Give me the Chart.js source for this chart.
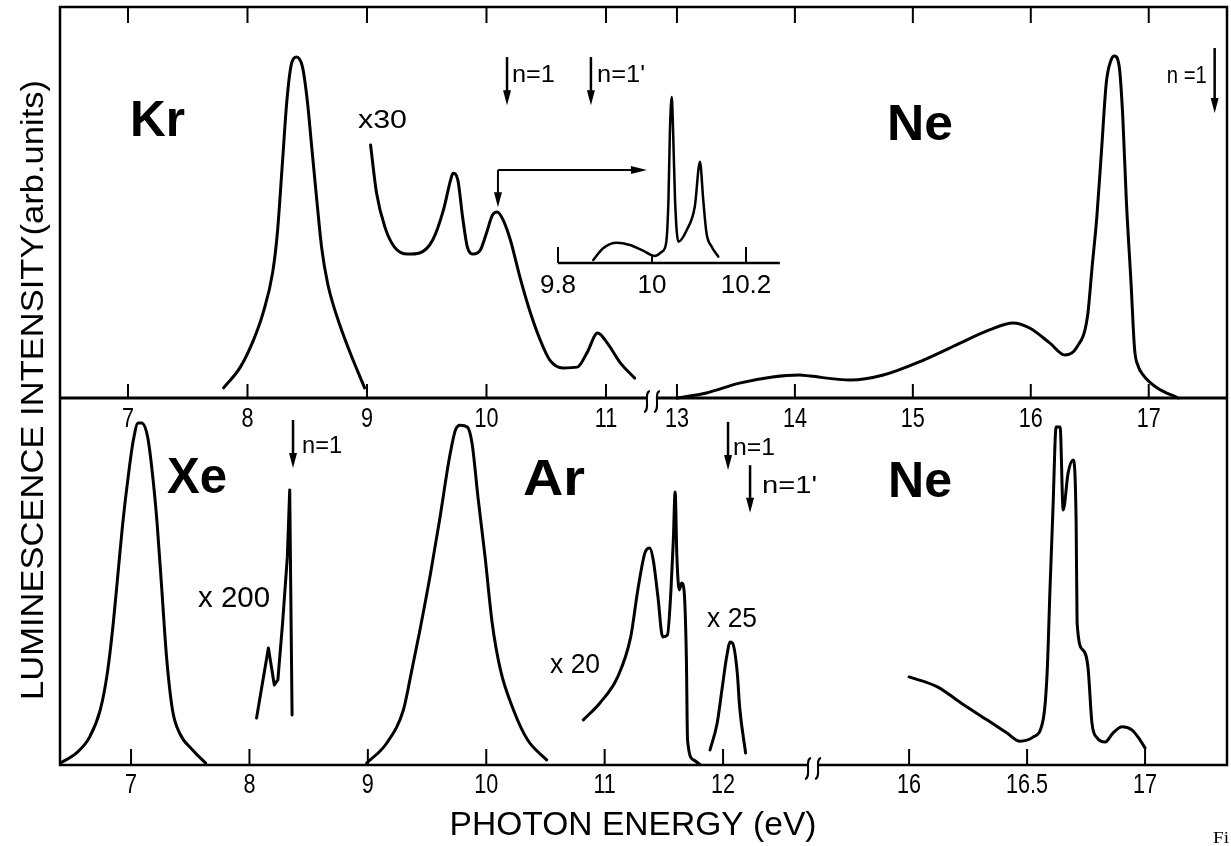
<!DOCTYPE html>
<html>
<head>
<meta charset="utf-8">
<title>Luminescence of rare-gas solids</title>
<script src="https://cdn.jsdelivr.net/npm/chart.js@4.4.1/dist/chart.umd.min.js"></script>
<style>
  html, body { margin: 0; padding: 0; background: #fff; }
  #wrap { position: relative; width: 1231px; height: 846px; }
</style>
</head>
<body>
<div id="wrap"><canvas id="chart" width="1231" height="846"></canvas></div>
<script>

// ---- data: photon energy (eV) and intensity (arb. units, 0-100 per panel) ----

// upper panel
var krMainE = [ 7.80, 7.94, 8.05, 8.13, 8.21, 8.25, 8.29, 8.33, 8.37, 8.41, 8.46, 8.50, 8.54, 8.58, 8.62, 8.67, 8.75, 8.86, 8.98 ];
var krMainI = [ 2.6, 7.9, 14.8, 21.7, 32.0, 42.2, 59.1, 76.2, 85.7, 87.2, 84.7, 76.2, 63.4, 50.6, 38.6, 29.4, 20.7, 11.5, 2.6 ];

var krX30E = [ 9.03, 9.08, 9.15, 9.23, 9.34, 9.44, 9.55, 9.64, 9.70, 9.72, 9.76, 9.80, 9.84, 9.89, 9.95, 10.00, 10.05, 10.09, 10.14, 10.20, 10.28, 10.36, 10.45, 10.53, 10.64, 10.76, 10.84, 10.93, 11.01, 11.12, 11.24 ];
var krX30I = [ 64.7, 52.4, 43.7, 38.6, 36.8, 37.1, 40.4, 48.1, 55.8, 57.5, 55.8, 46.3, 38.6, 36.8, 37.9, 42.2, 46.8, 47.6, 45.5, 40.4, 30.9, 22.5, 14.8, 9.7, 7.7, 7.9, 11.5, 16.6, 14.1, 9.0, 5.1 ];

var neTopE = [ 13.00, 13.25, 13.53, 13.81, 14.04, 14.13, 14.47, 14.75, 15.09, 15.37, 15.65, 15.85, 15.99, 16.16, 16.29, 16.39, 16.48, 16.52, 16.56, 16.60, 16.64, 16.68, 16.71, 16.75, 16.78, 16.81, 16.85, 16.88, 16.91, 16.95, 17.07, 17.25 ];
var neTopI = [ 0, 1.3, 3.8, 5.4, 5.9, 5.6, 4.6, 5.9, 9.7, 13.6, 17.4, 19.2, 17.9, 14.1, 11.0, 13.0, 20.7, 33.5, 46.3, 63.4, 80.6, 86.4, 87.5, 84.7, 71.9, 50.6, 29.4, 12.5, 8.2, 6.0, 2.6, 0 ];

// inset (high resolution Kr, 9.8 - 10.2 eV)
var krInsetE = [ 9.875, 9.896, 9.925, 9.953, 9.981, 10.006, 10.021, 10.030, 10.035, 10.038, 10.042, 10.045, 10.049, 10.056, 10.074, 10.091, 10.102, 10.109, 10.116, 10.127, 10.141 ];
var krInsetI = [ 1.8, 8.9, 12.2, 10.8, 7.4, 4.2, 6.8, 11.9, 38.0, 78.3, 100, 78.3, 38.0, 12.8, 19.9, 33.9, 61.0, 38.0, 17.9, 9.8, 3.8 ];

// lower panel
var xeMainE = [ 6.40, 6.54, 6.65, 6.74, 6.80, 6.85, 6.89, 6.93, 6.98, 7.02, 7.06, 7.09, 7.14, 7.18, 7.22, 7.26, 7.30, 7.35, 7.41, 7.52, 7.63 ];
var xeMainI = [ 0.5, 3.3, 7.6, 15.0, 25.1, 38.7, 52.3, 65.9, 79.6, 88.6, 93.2, 93.2, 89.4, 79.6, 65.9, 47.7, 29.4, 15.0, 8.7, 4.1, 0.5 ];

var xeX200E = [ 8.06, 8.16, 8.21, 8.24, 8.28, 8.32, 8.34, 8.36 ];
var xeX200I = [ 12.8, 31.9, 21.8, 23.2, 38.7, 56.7, 74.9, 13.6 ];

var arMainE = [ 8.99, 9.16, 9.30, 9.36, 9.44, 9.53, 9.61, 9.69, 9.74, 9.78, 9.84, 9.88, 9.93, 9.99, 10.05, 10.12, 10.23, 10.35, 10.51 ];
var arMainI = [ 0.5, 6.0, 15.0, 24.0, 36.8, 52.3, 67.6, 83.9, 91.3, 92.6, 92.1, 87.7, 73.0, 56.7, 38.7, 25.9, 15.0, 6.8, 1.4 ];

var arX20E = [ 10.82, 10.96, 11.11, 11.22, 11.28, 11.34, 11.38, 11.41, 11.45, 11.49, 11.53, 11.56, 11.58, 11.595, 11.61, 11.63, 11.65, 11.67, 11.69, 11.70, 11.75, 11.81 ];
var arX20I = [ 12.3, 16.9, 24.0, 34.9, 47.7, 57.8, 59.1, 55.9, 45.8, 34.9, 35.4, 47.7, 61.3, 74.4, 56.7, 47.7, 49.6, 47.7, 29.4, 6.8, 1.4, 0 ];

var arX25E = [ 11.89, 11.95, 11.99, 12.03, 12.06, 12.08, 12.12, 12.14, 12.19 ];
var arX25I = [ 4.1, 11.4, 20.4, 29.4, 33.5, 33.2, 25.1, 15.8, 3.3 ];

var neBotE = [ 16.00, 16.12, 16.22, 16.33, 16.415, 16.47, 16.525, 16.568, 16.585, 16.597, 16.61, 16.623, 16.64, 16.653, 16.674, 16.695, 16.708, 16.712, 16.737, 16.758, 16.775, 16.797, 16.831, 16.864, 16.903, 16.945, 16.979, 17.00 ];
var neBotI = [ 24.0, 21.3, 16.9, 12.3, 8.7, 6.5, 7.6, 12.3, 25.1, 47.7, 70.3, 92.1, 92.1, 69.5, 79.6, 83.1, 65.9, 38.7, 31.3, 26.7, 11.4, 7.4, 6.3, 8.7, 10.4, 9.5, 6.8, 4.6 ];

// tick labels
var topTicks = [ 7, 8, 9, 10, 11, 13, 14, 15, 16, 17 ];
var bottomTicks = [ 7, 8, 9, 10, 11, 12, 16, 16.5, 17 ];
var insetTicks = [ 9.8, 10, 10.2 ];
var insetAxisEnd = 10.272;

// ---- broken energy axes: u is the continuous coordinate of the chart scales ----

var topU = function( e ) { return e < 12 ? e : 11.594 + ( e - 13 ) * 0.987; };
var botU = function( e ) { return e < 14 ? e : 13.571 + ( e - 16 ) * 1.993; };
var idU = function( e ) { return e; };

var topBreakU = 11.385;
var botBreakU = 12.76;

var SANS = '"Liberation Sans", Arial, Helvetica, sans-serif';

// ---- annotations ----

var notes = [
  { p: 'top', t: 'Kr', e: 7.017, i: 67.0, font: 'bold 50px ', w: 55 },
  { p: 'top', t: 'Ne', e: 14.78, i: 66.0, font: 'bold 50px ', w: 66 },
  { p: 'top', t: 'x30', e: 8.925, i: 69.1, font: '26px ', w: 49 },
  { p: 'top', t: 'n=1', e: 10.213, i: 80.8, font: '23px ', w: 43 },
  { p: 'top', t: 'n=1\'', e: 10.925, i: 80.8, font: '23px ', w: 48 },
  { p: 'top', t: 'n =1', e: 17.492, i: 80.6, font: '23px ', w: 40, align: 'right' },
  { p: 'bot', t: 'Xe', e: 7.304, i: 74.1, font: 'bold 50px ', w: 60 },
  { p: 'bot', t: 'Ar', e: 10.311, i: 73.6, font: 'bold 50px ', w: 62 },
  { p: 'bot', t: 'Ne', e: 15.911, i: 73.0, font: 'bold 50px ', w: 64 },
  { p: 'bot', t: 'x 200', e: 7.566, i: 43.1, font: '30px ', w: 72 },
  { p: 'bot', t: 'x 20', e: 10.539, i: 25.1, font: '28px ', w: 50 },
  { p: 'bot', t: 'x 25', e: 11.865, i: 37.6, font: '28px ', w: 50 },
  { p: 'bot', t: 'n=1', e: 8.444, i: 85.0, font: '23px ', w: 40 },
  { p: 'bot', t: 'n=1', e: 12.084, i: 84.5, font: '23px ', w: 42 },
  { p: 'bot', t: 'n=1\'', e: 12.329, i: 74.1, font: '23px ', w: 55 }
];

// exciton positions (vertical arrows)
var markers = [
  { p: 'top', e: 10.172, i1: 87.2, i2: 74.9 },
  { p: 'top', e: 10.874, i1: 87.2, i2: 74.9 },
  { p: 'top', e: 17.559, i1: 89.5, i2: 72.9 },
  { p: 'bot', e: 8.368, i1: 94.0, i2: 80.9 },
  { p: 'bot', e: 12.042, i1: 93.5, i2: 80.4 },
  { p: 'bot', e: 12.228, i1: 81.7, i2: 68.7 }
];

// ---- helpers ----

var line = function( ctx, x1, y1, x2, y2 ) {
  ctx.beginPath();
  ctx.moveTo( x1, y1 );
  ctx.lineTo( x2, y2 );
  ctx.stroke();
};

var label = function( ctx, str, x, y, font, width, align, sx ) {
  ctx.save();
  ctx.font = font;
  var k = width ? width / ctx.measureText( str ).width : ( sx || 1 );
  ctx.translate( x, y );
  ctx.scale( k, 1 );
  ctx.textAlign = align || 'left';
  ctx.textBaseline = 'alphabetic';
  ctx.fillText( str, 0, 0 );
  ctx.restore();
};

var head = function( ctx, x, y, dir ) {
  ctx.beginPath();
  ctx.moveTo( x, y );
  if ( dir === 'down' ) {
    ctx.lineTo( x - 4, y - 15 );
    ctx.lineTo( x + 4, y - 15 );
  } else {
    ctx.lineTo( x - 16, y - 4 );
    ctx.lineTo( x - 16, y + 4 );
  }
  ctx.closePath();
  ctx.fill();
};

var breakMark = function( ctx, x, y ) {
  ctx.save();
  ctx.fillStyle = '#fff';
  ctx.fillRect( x - 4, y - 3, 8, 6 );
  ctx.lineWidth = 2;
  [ -5, 5 ].forEach( function( dx ) {
    var cx = x + dx;
    ctx.beginPath();
    ctx.moveTo( cx + 3, y - 7 );
    ctx.bezierCurveTo( cx - 4, y - 6, cx + 4, y + 12, cx - 3, y + 14 );
    ctx.stroke();
  } );
  ctx.restore();
};

var series = function( es, is, map, xID, yID, extra ) {
  return Object.assign( {
    data: es.map( function( e, n ) { return { x: map( e ), y: is[ n ] }; } ),
    xAxisID: xID,
    yAxisID: yID,
    showLine: true,
    borderColor: '#000',
    borderWidth: 3,
    pointRadius: 0,
    cubicInterpolationMode: 'monotone',
    borderJoinStyle: 'round',
    borderCapStyle: 'round'
  }, extra || {} );
};

// ---- axes, labels and annotations ----

var decor = {
  id: 'decor',
  afterDatasetsDraw: function( chart ) {

    var ctx = chart.ctx;
    var a = chart.chartArea;
    var sc = chart.scales;

    var pt = function( p, e, i ) {
      if ( p === 'top' ) return [ sc.xTop.getPixelForValue( topU( e ) ), sc.yTop.getPixelForValue( i ) ];
      if ( p === 'bot' ) return [ sc.xBot.getPixelForValue( botU( e ) ), sc.yBot.getPixelForValue( i ) ];
      return [ sc.xIn.getPixelForValue( e ), sc.yIn.getPixelForValue( i ) ];
    };

    ctx.save();
    ctx.strokeStyle = '#000';
    ctx.fillStyle = '#000';

    // frame and panel divider
    var yMid = sc.yTop.getPixelForValue( 0 );
    var yBase = sc.yBot.getPixelForValue( 0 );
    ctx.lineWidth = 2.5;
    ctx.strokeRect( a.left, a.top, a.right - a.left, a.bottom - a.top );
    ctx.lineWidth = 3;
    line( ctx, a.left, yMid, a.right, yMid );

    // upper panel ticks + labels
    ctx.lineWidth = 2;
    topTicks.forEach( function( t ) {
      var x = sc.xTop.getPixelForValue( topU( t ) );
      line( ctx, x, a.top, x, a.top + 16 );
      line( ctx, x, yMid, x, yMid - 14 );
      label( ctx, String( t ), x, yMid + 29, '27px ' + SANS, null, 'center', 0.8 );
    } );

    // lower panel ticks + labels
    bottomTicks.forEach( function( t ) {
      var x = sc.xBot.getPixelForValue( botU( t ) );
      line( ctx, x, yBase, x, yBase - 16 );
      label( ctx, String( t ), x, yBase + 28, '27px ' + SANS, null, 'center', 0.8 );
    } );

    breakMark( ctx, sc.xTop.getPixelForValue( topBreakU ), yMid );
    breakMark( ctx, sc.xBot.getPixelForValue( botBreakU ), yBase );

    // inset axis
    var i0 = pt( 'in', 9.8, 0 );
    var i1 = pt( 'in', insetAxisEnd, 0 );
    ctx.lineWidth = 2.5;
    line( ctx, i0[ 0 ], i0[ 1 ], i1[ 0 ], i1[ 1 ] );
    ctx.lineWidth = 2;
    insetTicks.forEach( function( t ) {
      var q = pt( 'in', t, 0 );
      line( ctx, q[ 0 ], q[ 1 ], q[ 0 ], q[ 1 ] - ( t === 10 ? 8 : 16 ) );
      label( ctx, String( t ), q[ 0 ], q[ 1 ] + 30, '26px ' + SANS, null, 'center' );
    } );

    // pointer from the Kr 10.1 eV band to the inset
    var k1 = pt( 'top', 10.096, 58.3 );
    var k2 = pt( 'top', 10.096, 48.8 );
    var k3 = pt( 'top', 11.343, 58.3 );
    line( ctx, k1[ 0 ], k1[ 1 ], k2[ 0 ], k2[ 1 ] - 12 );
    head( ctx, k2[ 0 ], k2[ 1 ], 'down' );
    line( ctx, k1[ 0 ], k1[ 1 ], k3[ 0 ] - 12, k3[ 1 ] );
    head( ctx, k3[ 0 ], k3[ 1 ], 'right' );

    // exciton markers
    ctx.lineWidth = 2.5;
    markers.forEach( function( m ) {
      var q1 = pt( m.p, m.e, m.i1 );
      var q2 = pt( m.p, m.e, m.i2 );
      line( ctx, q1[ 0 ], q1[ 1 ], q2[ 0 ], q2[ 1 ] - 12 );
      head( ctx, q2[ 0 ], q2[ 1 ], 'down' );
    } );

    notes.forEach( function( n ) {
      var q = pt( n.p, n.e, n.i );
      label( ctx, n.t, q[ 0 ], q[ 1 ], n.font + SANS, n.w, n.align );
    } );

    // axis titles
    ctx.save();
    ctx.translate( 43, 390 );
    ctx.rotate( -Math.PI / 2 );
    label( ctx, 'LUMINESCENCE INTENSITY(arb.units)', 0, 0, '32px ' + SANS, 620, 'center' );
    ctx.restore();
    label( ctx, 'PHOTON ENERGY (eV)', 633, 835, '34px ' + SANS, 367, 'center' );

    // cut-off caption at the page edge
    label( ctx, 'Fi', 1213, 843, '16px "Liberation Serif", serif', 16, 'left' );

    ctx.restore();

  }
};

// ---- chart ----

var datasets = [
  series( krMainE, krMainI, topU, 'xTop', 'yTop' ),
  series( krX30E, krX30I, topU, 'xTop', 'yTop' ),
  series( neTopE, neTopI, topU, 'xTop', 'yTop' ),
  series( krInsetE, krInsetI, idU, 'xIn', 'yIn', { borderWidth: 2.5 } ),
  series( xeMainE, xeMainI, botU, 'xBot', 'yBot' ),
  series( xeX200E, xeX200I, botU, 'xBot', 'yBot', { cubicInterpolationMode: 'default', tension: 0 } ),
  series( arMainE, arMainI, botU, 'xBot', 'yBot' ),
  series( arX20E, arX20I, botU, 'xBot', 'yBot' ),
  series( arX25E, arX25I, botU, 'xBot', 'yBot' ),
  series( neBotE, neBotI, botU, 'xBot', 'yBot' )
];

var hidden = function( axis, min, max ) {
  return { type: 'linear', axis: axis, min: min, max: max, display: false };
};

new Chart( document.getElementById( 'chart' ), {
  type: 'scatter',
  data: { datasets: datasets },
  options: {
    responsive: false,
    animation: false,
    devicePixelRatio: 1,
    events: [],
    layout: { padding: { left: 60, top: 7, right: 4, bottom: 81 } },
    plugins: { legend: { display: false }, tooltip: { enabled: false } },
    scales: {
      xTop: hidden( 'x', 6.431, 16.197 ),
      yTop: hidden( 'y', -93.86, 100 ),
      xBot: hidden( 'x', 6.4, 16.256 ),
      yBot: hidden( 'y', 0, 206.54 ),
      xIn: hidden( 'x', 8.7404, 11.2234 ),
      yIn: hidden( 'y', -302.4, 154.2 )
    }
  },
  plugins: [ decor ]
} );

</script>
</body>
</html>
